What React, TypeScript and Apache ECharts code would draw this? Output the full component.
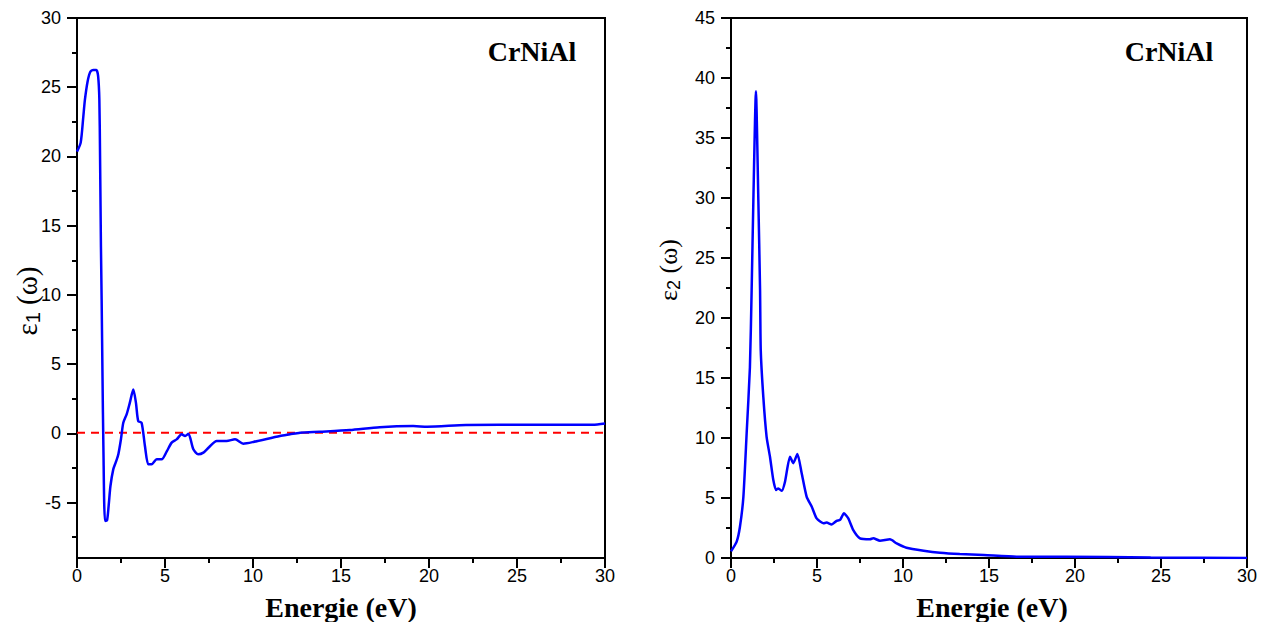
import React, { useEffect, useRef } from "react";
import * as echarts from "echarts";

const energyTicks = [0, 5, 10, 15, 20, 25, 30];

const eps1Energy = [0, 0.21, 0.36, 0.45, 0.6, 0.75, 0.93, 1.1, 1.2, 1.27, 1.31, 1.36, 1.4, 1.45, 1.5, 1.59, 1.7, 1.8, 1.9, 2.06, 2.2, 2.35, 2.5, 2.63, 2.82, 3.0, 3.2, 3.35, 3.48, 3.67, 3.86, 4.05, 4.24, 4.53, 4.81, 5.1, 5.38, 5.66, 5.95, 6.14, 6.33, 6.61, 6.89, 7.18, 7.5, 7.94, 8.5, 8.98, 9.45, 10.02, 11.53, 12.1, 12.67, 13.8, 15.5, 17.2, 19.1, 19.9, 22.1, 25.9, 29.3, 30];
const eps1Values = [20.35, 21.0, 22.9, 24.1, 25.4, 26.1, 26.25, 26.25, 25.8, 24.1, 20.0, 13.5, 9.66, 4.0, -1.0, -6.32, -6.3, -5.2, -3.8, -2.6, -2.1, -1.5, -0.4, 0.77, 1.37, 2.2, 3.17, 2.2, 0.89, 0.77, -0.91, -2.23, -2.23, -1.87, -1.87, -1.3, -0.67, -0.43, -0.07, -0.19, -0.03, -1.15, -1.51, -1.39, -1.0, -0.55, -0.55, -0.43, -0.74, -0.62, -0.19, -0.07, 0.05, 0.12, 0.24, 0.45, 0.53, 0.48, 0.6, 0.62, 0.62, 0.72];

const zeroLineEnergy = [0, 30];
const zeroLineValues = [0.05, 0.05];

const eps2Energy = [0, 0.33, 0.52, 0.72, 0.91, 1.1, 1.2, 1.3, 1.45, 1.59, 1.69, 1.73, 1.88, 2.07, 2.27, 2.46, 2.62, 2.75, 2.95, 3.14, 3.43, 3.62, 3.86, 4.11, 4.4, 4.69, 4.98, 5.37, 5.56, 5.85, 6.14, 6.34, 6.57, 6.82, 7.11, 7.5, 8.08, 8.27, 8.66, 9.24, 9.63, 10.2, 11.2, 12.15, 13.3, 14.7, 16.6, 19.5, 24.4, 30];
const eps2Values = [0.55, 1.36, 2.6, 5.1, 10.4, 15.9, 22.3, 29.8, 38.9, 29.8, 22.3, 17.3, 13.4, 10.1, 8.4, 6.5, 5.67, 5.8, 5.6, 6.36, 8.44, 7.9, 8.67, 7.06, 5.1, 4.3, 3.3, 2.9, 2.95, 2.8, 3.1, 3.17, 3.72, 3.3, 2.33, 1.64, 1.56, 1.64, 1.44, 1.56, 1.22, 0.86, 0.61, 0.44, 0.33, 0.25, 0.11, 0.11, 0.05, 0.0];

const eps1MajorTicks = [-5, 0, 5, 10, 15, 20, 25, 30];
const eps1MinorTicks = [-7.5, -2.5, 2.5, 7.5, 12.5, 17.5, 22.5, 27.5];

const materialLabel = "CrNiAl";
const xTitle = "Energie (eV)";

const zip = (xs: number[], ys: number[]) => xs.map((x, i) => [x, ys[i]]);

const SANS = "Arial, 'Liberation Sans', sans-serif";
const SERIF = "'Times New Roman', 'Liberation Serif', serif";

export default function App() {
  const ref = useRef<HTMLDivElement>(null);
  useEffect(() => {
    if (!ref.current) return;
    const chart = echarts.init(ref.current, undefined, { renderer: "svg" });

    const axisLine = { show: true, onZero: false, lineStyle: { color: "#000", width: 2 } };
    const label = { color: "#000", fontSize: 18, fontFamily: SANS };

    const xAxisFor = (gridIndex: number) => ({
      type: "value",
      gridIndex,
      min: 0,
      max: 30,
      interval: 5,
      axisLine,
      axisTick: { show: true, inside: false, length: 10, lineStyle: { color: "#000", width: 2 } },
      minorTick: { show: true, splitNumber: 2, length: 5, lineStyle: { color: "#000", width: 2 } },
      axisLabel: { ...label, margin: 9, customValues: energyTicks },
      splitLine: { show: false },
      minorSplitLine: { show: false },
    });

    const yTitle = (x: number, y: number, sub: string, size: number) => ({
      type: "text",
      x,
      y,
      rotation: Math.PI / 2,
      style: {
        text: `{a|ε}{b|${sub}}{a| (ω)}`,
        align: "center",
        verticalAlign: "middle",
        fill: "#000",
        rich: {
          a: { fontSize: size, fontFamily: SERIF, fill: "#000", lineHeight: 32 },
          b: { fontSize: Math.round(size * 0.7), fontFamily: SANS, fill: "#000", padding: [12, 0, 0, 0], lineHeight: 32 },
        },
      },
    });

    const option: any = {
      animation: false,
      backgroundColor: "#fff",
      grid: [
        { left: 77, top: 18, width: 528, height: 540, show: true, borderColor: "#000", borderWidth: 2, backgroundColor: "transparent" },
        { left: 731, top: 18, width: 516, height: 540, show: true, borderColor: "#000", borderWidth: 2, backgroundColor: "transparent" },
      ],
      xAxis: [xAxisFor(0), xAxisFor(1)],
      yAxis: [
        {
          type: "value",
          gridIndex: 0,
          min: -9,
          max: 30,
          axisLine,
          axisTick: { show: true, length: 10, customValues: eps1MajorTicks, lineStyle: { color: "#000", width: 2 } },
          axisLabel: { ...label, margin: 16, customValues: eps1MajorTicks },
          splitLine: { show: false },
        },
        {
          type: "value",
          gridIndex: 0,
          min: -9,
          max: 30,
          position: "left",
          axisLine: { show: false },
          axisTick: { show: true, length: 5, customValues: eps1MinorTicks, lineStyle: { color: "#000", width: 2 } },
          axisLabel: { show: false },
          splitLine: { show: false },
        },
        {
          type: "value",
          gridIndex: 1,
          min: 0,
          max: 45,
          interval: 5,
          axisLine,
          axisTick: { show: true, length: 10, lineStyle: { color: "#000", width: 2 } },
          minorTick: { show: true, splitNumber: 2, length: 5, lineStyle: { color: "#000", width: 2 } },
          axisLabel: { ...label, margin: 16 },
          splitLine: { show: false },
          minorSplitLine: { show: false },
        },
      ],
      series: [
        {
          type: "line",
          xAxisIndex: 0,
          yAxisIndex: 0,
          data: zip(zeroLineEnergy, zeroLineValues),
          showSymbol: false,
          lineStyle: { color: "#ff0000", width: 2, type: [8, 6] },
          z: 2,
        },
        {
          type: "line",
          xAxisIndex: 0,
          yAxisIndex: 0,
          data: zip(eps1Energy, eps1Values),
          showSymbol: false,
          smooth: 0.25,
          lineStyle: { color: "#0000ff", width: 2.5 },
          z: 3,
        },
        {
          type: "line",
          xAxisIndex: 1,
          yAxisIndex: 2,
          data: zip(eps2Energy, eps2Values),
          showSymbol: false,
          smooth: 0.2,
          lineStyle: { color: "#0000ff", width: 2.5 },
          z: 3,
        },
      ],
      graphic: [
        { type: "text", x: 532, y: 51, style: { text: materialLabel, font: `bold 28px ${SERIF}`, fill: "#000", align: "center", verticalAlign: "middle" } },
        { type: "text", x: 1169, y: 51, style: { text: materialLabel, font: `bold 28px ${SERIF}`, fill: "#000", align: "center", verticalAlign: "middle" } },
        { type: "text", x: 341, y: 607, style: { text: xTitle, font: `bold 28px ${SERIF}`, fill: "#000", align: "center", verticalAlign: "middle" } },
        { type: "text", x: 992, y: 607, style: { text: xTitle, font: `bold 28px ${SERIF}`, fill: "#000", align: "center", verticalAlign: "middle" } },
        yTitle(27, 301, "1", 29),
        yTitle(668, 270, "2", 26),
      ],
    };

    chart.setOption(option);
    return () => chart.dispose();
  }, []);

  return <div ref={ref} style={{ position: "fixed", left: 0, top: 0, width: 1271, height: 622 }} />;
}
